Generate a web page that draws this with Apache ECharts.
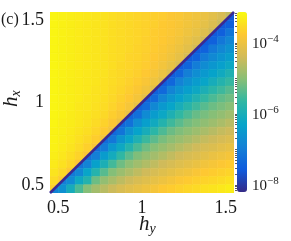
<!DOCTYPE html>
<html><head><meta charset="utf-8">
<script src="https://cdn.jsdelivr.net/npm/echarts@6/dist/echarts.min.js"></script>
<style>html,body{margin:0;padding:0;background:#fff}#c{width:291px;height:241px}</style>
</head><body><div id="c"></div>
<script>
// cell centres (h_y across, h_x from top row to bottom row)
const hyCenters = [0.475,0.525,0.575,0.625,0.675,0.725,0.775,0.825,0.875,0.925,0.975,1.025,1.075,1.125,1.175,1.225,1.275,1.325,1.375,1.425,1.475,1.525];
const hxCentersTopDown = [1.525,1.475,1.425,1.375,1.325,1.275,1.225,1.175,1.125,1.075,1.025,0.975,0.925,0.875,0.825,0.775,0.725,0.675,0.625,0.575,0.525,0.475];
// log10 of the plotted quantity, rows from h_x = 1.525 (top) to 0.475 (bottom); null = cell on the diagonal
const logGrid = [
[-3.21,-3.25,-3.29,-3.33,-3.36,-3.40,-3.44,-3.49,-3.53,-3.57,-3.60,-3.64,-3.68,-3.72,-3.79,-3.83,-3.90,-3.96,-4.05,-4.16,-4.30,null],
[-3.21,-3.25,-3.29,-3.33,-3.36,-3.40,-3.44,-3.49,-3.53,-3.57,-3.60,-3.64,-3.68,-3.75,-3.79,-3.85,-3.93,-4.01,-4.12,-4.26,null,-7.51],
[-3.21,-3.25,-3.29,-3.33,-3.36,-3.40,-3.44,-3.49,-3.53,-3.57,-3.60,-3.64,-3.71,-3.75,-3.81,-3.88,-3.98,-4.08,-4.22,null,-7.50,-7.14],
[-3.21,-3.25,-3.29,-3.33,-3.36,-3.40,-3.44,-3.49,-3.53,-3.57,-3.60,-3.67,-3.71,-3.77,-3.84,-3.93,-4.05,-4.18,null,-7.48,-7.10,-6.85],
[-3.21,-3.25,-3.29,-3.33,-3.36,-3.40,-3.44,-3.49,-3.53,-3.57,-3.63,-3.67,-3.73,-3.80,-3.89,-4.00,-4.15,null,-7.46,-7.07,-6.82,-6.62],
[-3.21,-3.25,-3.29,-3.33,-3.36,-3.40,-3.44,-3.49,-3.53,-3.60,-3.63,-3.69,-3.76,-3.85,-3.96,-4.10,null,-7.44,-7.04,-6.78,-6.59,-6.42],
[-3.21,-3.25,-3.29,-3.33,-3.36,-3.40,-3.44,-3.49,-3.56,-3.60,-3.65,-3.72,-3.81,-3.92,-4.06,null,-7.42,-7.00,-6.74,-6.54,-6.38,-6.18],
[-3.21,-3.25,-3.29,-3.33,-3.36,-3.40,-3.44,-3.52,-3.56,-3.62,-3.68,-3.77,-3.88,-4.02,null,-7.40,-6.96,-6.70,-6.50,-6.32,-6.12,-5.90],
[-3.21,-3.25,-3.29,-3.33,-3.36,-3.40,-3.47,-3.52,-3.58,-3.65,-3.73,-3.84,-3.98,null,-7.37,-6.92,-6.66,-6.45,-6.26,-6.03,-5.82,-5.63],
[-3.21,-3.25,-3.29,-3.33,-3.36,-3.43,-3.47,-3.54,-3.61,-3.70,-3.80,-3.94,null,-7.35,-6.88,-6.61,-6.39,-6.19,-5.95,-5.73,-5.56,-5.39],
[-3.21,-3.25,-3.29,-3.33,-3.39,-3.43,-3.49,-3.57,-3.66,-3.77,-3.90,null,-7.31,-6.84,-6.56,-6.34,-6.11,-5.86,-5.64,-5.46,-5.30,-5.19],
[-3.21,-3.25,-3.29,-3.36,-3.39,-3.45,-3.52,-3.62,-3.73,-3.87,null,-7.28,-6.80,-6.50,-6.28,-6.01,-5.76,-5.55,-5.37,-5.22,-5.12,-5.01],
[-3.21,-3.25,-3.32,-3.36,-3.41,-3.48,-3.57,-3.69,-3.83,null,-7.24,-6.75,-6.45,-6.21,-5.92,-5.65,-5.45,-5.26,-5.14,-5.03,-4.93,-4.82],
[-3.21,-3.28,-3.32,-3.38,-3.44,-3.53,-3.64,-3.79,null,-7.20,-6.70,-6.39,-6.12,-5.82,-5.55,-5.35,-5.17,-5.06,-4.95,-4.84,-4.73,-4.61],
[-3.24,-3.28,-3.34,-3.41,-3.49,-3.60,-3.74,null,-7.15,-6.64,-6.32,-6.02,-5.71,-5.45,-5.23,-5.09,-4.97,-4.85,-4.74,-4.62,-4.51,-4.42],
[-3.24,-3.30,-3.37,-3.46,-3.56,-3.70,null,-7.10,-6.58,-6.25,-5.91,-5.58,-5.34,-5.13,-4.99,-4.87,-4.75,-4.63,-4.51,-4.42,-4.33,-4.24],
[-3.26,-3.33,-3.42,-3.53,-3.66,null,-7.04,-6.52,-6.17,-5.80,-5.47,-5.21,-5.03,-4.89,-4.77,-4.64,-4.52,-4.41,-4.32,-4.24,-4.15,-4.07],
[-3.29,-3.38,-3.49,-3.63,null,-6.97,-6.44,-6.08,-5.66,-5.34,-5.08,-4.93,-4.79,-4.66,-4.53,-4.41,-4.32,-4.23,-4.14,-4.05,-3.97,-3.89],
[-3.34,-3.45,-3.59,null,-6.90,-6.36,-5.95,-5.52,-5.20,-4.98,-4.82,-4.68,-4.54,-4.41,-4.31,-4.22,-4.13,-4.04,-3.95,-3.87,-3.79,-3.73],
[-3.41,-3.55,null,-6.83,-6.27,-5.81,-5.37,-5.05,-4.86,-4.71,-4.55,-4.41,-4.31,-4.21,-4.11,-4.02,-3.94,-3.84,-3.77,-3.71,-3.66,-3.61],
[-3.51,null,-6.75,-6.17,-5.82,-5.22,-4.93,-4.74,-4.57,-4.42,-4.30,-4.20,-4.10,-4.01,-3.91,-3.81,-3.74,-3.68,-3.63,-3.58,-3.53,-3.47],
[null,-6.66,-6.05,-5.46,-5.04,-4.79,-4.61,-4.44,-4.30,-4.19,-4.09,-3.99,-3.89,-3.78,-3.71,-3.65,-3.59,-3.54,-3.47,-3.42,-3.36,-3.31]
];
// diagonal cells: part above (h_x > h_y) and part below the ridge, by column
const diagUpper = [-3.67,-3.71,-3.75,-3.79,-3.82,-3.86,-3.90,-3.95,-3.99,-4.03,-4.06,-4.10,-4.14,-4.18,-4.22,-4.26,-4.31,-4.34,-4.38,-4.42,-4.46,-4.50];
const diagLower = [-6.88,-6.97,-7.06,-7.14,-7.20,-7.25,-7.30,-7.34,-7.38,-7.40,-7.43,-7.45,-7.47,-7.49,-7.51,-7.53,-7.54,-7.56,-7.57,-7.58,-7.59,-7.60];
// minimum ridge h_x = h_y
const ridgeEnds = [0.45, 1.55];
const axisRange = [0.45, 1.55];
const axisTickValues = [0.5, 1, 1.5];
const cbRange = [-8.2, -3.13];
const cbLabelExps = [-8, -6, -4];
const parula = ['#352a87','#0f5cdd','#1481d6','#06a4ca','#2eb7a4','#87bf77','#d1bb59','#fec832','#f9fb0e'];

const SERIF = 'Liberation Serif';
const INK = '#1a1a1a';
const cellStep = hyCenters[1] - hyCenters[0];
const cells = [];
logGrid.forEach((row, r) => row.forEach((v, c) => {
  const hy = hyCenters[c], hx = hxCentersTopDown[r];
  if (v === null) {
    cells.push([hy, hx, diagUpper[c], 1]);
    cells.push([hy, hx, diagLower[c], 2]);
  } else {
    cells.push([hy, hx, v, 0]);
  }
}));
const ridgeData = ridgeEnds.map(h => [h, h]);

const cbTicks = [];
for (let d = -9; d <= -4; d++) {
  for (let k = 1; k <= 9; k++) {
    const v = d + Math.log10(k);
    if (v >= cbRange[0] && v <= cbRange[1]) cbTicks.push(v);
  }
}

function fmtNum(v){ return String(Math.round(v*10)/10); }
const nameRich = {
  i: {fontFamily: SERIF, fontStyle: 'italic', fontSize: 21, fill: INK, color: INK, lineHeight: 22, verticalAlign: 'top'},
  s: {fontFamily: SERIF, fontStyle: 'italic', fontSize: 14, fill: INK, color: INK, lineHeight: 14, verticalAlign: 'bottom', padding: [10,0,0,0]}
};

const chart = echarts.init(document.getElementById('c'), null, {renderer: 'canvas'});
chart.setOption({
  animation: false,
  backgroundColor: '#fff',
  grid: [
    {left: 50, top: 12, width: 184, height: 181, outerBoundsMode: 'none', containLabel: false},
    {left: 237, top: 12, width: 10, height: 180, outerBoundsMode: 'none', containLabel: false}
  ],
  xAxis: [
    {type: 'value', gridIndex: 0, min: axisRange[0], max: axisRange[1],
     axisLine: {show: false}, axisTick: {show: false}, splitLine: {show: false},
     axisLabel: {customValues: axisTickValues, formatter: fmtNum, margin: 6,
       fontFamily: SERIF, fontSize: 18, color: INK}},
    {type: 'value', gridIndex: 1, min: 0, max: 1, show: false}
  ],
  yAxis: [
    {type: 'value', gridIndex: 0, min: axisRange[0], max: axisRange[1],
     axisLine: {show: false}, axisTick: {show: false}, splitLine: {show: false},
     axisLabel: {customValues: axisTickValues, formatter: fmtNum, margin: 6,
       fontFamily: SERIF, fontSize: 18, color: INK}},
    {type: 'value', gridIndex: 1, min: cbRange[0], max: cbRange[1], position: 'right',
     axisLine: {show: false}, splitLine: {show: false},
     axisTick: {show: true, inside: true, length: 2, customValues: cbTicks, lineStyle: {color: '#333', width: 0.8}},
     axisLabel: {customValues: cbLabelExps, margin: 5,
       formatter: v => '{b|10}{e|\u2212' + Math.round(-v) + '}',
       rich: {
         b: {fontFamily: SERIF, fontSize: 15, color: INK, lineHeight: 18, verticalAlign: 'bottom'},
         e: {fontFamily: SERIF, fontSize: 11, color: INK, lineHeight: 11, verticalAlign: 'top'}
       }}}
  ],
  visualMap: {
    type: 'continuous', min: cbRange[0], max: cbRange[1], dimension: 2, seriesIndex: 0,
    orient: 'vertical', left: 237, top: 12, itemWidth: 10, itemHeight: 180,
    calculable: false, padding: 0, text: null, showLabel: false, hoverLink: false,
    inRange: {color: parula}
  },
  graphic: [
    {type: 'text', left: 1, top: 12, style: {text: '(c)', font: '16px "Liberation Serif"', fill: INK}},
    {type: 'text', x: 139, y: 214, style: {text: '{i|h}{s|y}', rich: nameRich, fill: INK}},
    {type: 'text', x: 1, y: 107, rotation: Math.PI / 2, style: {text: '{i|h}{s|x}', rich: nameRich, fill: INK}}
  ],
  series: [
    {type: 'custom', xAxisIndex: 0, yAxisIndex: 0, clip: true, data: cells,
     encode: {x: 0, y: 1},
     renderItem: function (params, api) {
       const x = api.value(0), y = api.value(1), part = api.value(3);
       const h = cellStep / 2;
       const bl = api.coord([x - h, y - h]), tr = api.coord([x + h, y + h]);
       const tl = api.coord([x - h, y + h]), br = api.coord([x + h, y - h]);
       const col = api.visual('color');
       const style = {fill: col, stroke: col, lineWidth: 0.6};
       if (part === 0) {
         return {type: 'rect', shape: {x: bl[0], y: tr[1], width: tr[0] - bl[0], height: bl[1] - tr[1]}, style};
       }
       const pts = part === 1 ? [bl, tl, tr] : [bl, br, tr];
       return {type: 'polygon', shape: {points: pts}, style};
     }},
    {type: 'line', xAxisIndex: 0, yAxisIndex: 0, data: ridgeData, symbol: 'none',
     lineStyle: {color: '#3a2a94', width: 2.6}, z: 5}
  ]
});
</script></body></html>
